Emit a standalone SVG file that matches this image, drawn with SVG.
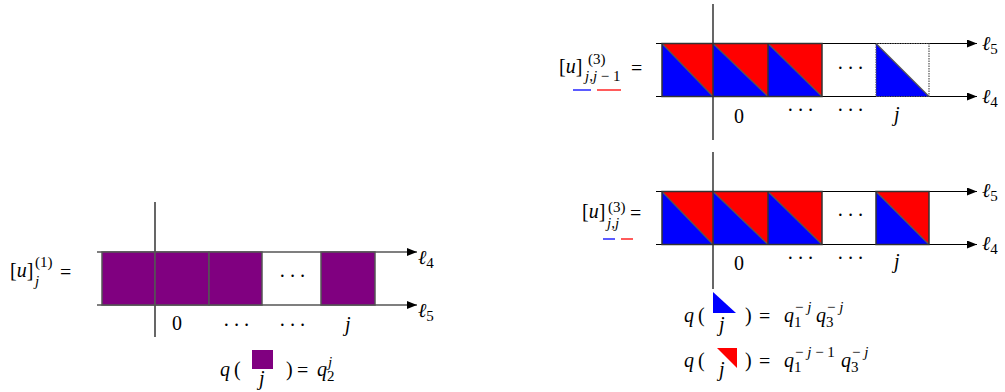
<svg xmlns="http://www.w3.org/2000/svg" width="1005" height="392" viewBox="0 0 1005 392">
<defs>
<marker id="arr" viewBox="0 0 10 8" refX="10" refY="4" markerWidth="10" markerHeight="8" markerUnits="userSpaceOnUse" orient="auto">
<path d="M0,0 L10,4 L0,8 z" fill="#000"/>
</marker>
</defs>
<style>
text{font-family:"Liberation Serif","DejaVu Serif","Times New Roman",serif;font-size:20px;fill:#000}
.i{font-style:italic}
.s{font-size:15px}
.ax{stroke:#000;stroke-width:1.2;fill:none}
.hl{stroke:#000;stroke-width:1.2;fill:none;marker-end:url(#arr)}
.pu{fill:#800080;stroke:#555;stroke-width:1.5}
.cell{fill:none;stroke:#333;stroke-width:1.5}
.bl{fill:#0000ff}
.rd{fill:#ff0000}
.dg{stroke:#555;stroke-width:1.2}
.dots{letter-spacing:3.5px}
</style>
<rect width="1005" height="392" fill="#fff"/>

<g id="connectors">
<line class="ax" x1="155" y1="202" x2="155" y2="337"/>
<line class="hl" x1="97" y1="252" x2="417" y2="252"/>
<line class="hl" x1="97" y1="305" x2="417" y2="305"/>
<line class="ax" x1="713" y1="4" x2="713" y2="140"/>
<line class="hl" x1="656" y1="43.5" x2="977" y2="43.5"/>
<line class="hl" x1="656" y1="96.5" x2="977" y2="96.5"/>
<line class="ax" x1="713" y1="152" x2="713" y2="289"/>
<line class="hl" x1="656" y1="191.5" x2="977" y2="191.5"/>
<line class="hl" x1="656" y1="244.5" x2="977" y2="244.5"/>
</g>

<g id="left-diagram">
<rect class="pu" x="102" y="252" width="53" height="53"/>
<rect class="pu" x="155" y="252" width="54" height="53"/>
<rect class="pu" x="209" y="252" width="53" height="53"/>
<rect class="pu" x="321" y="252" width="54" height="53"/>
<text class="dots" x="279" y="283">···</text>
<text x="10" y="277" font-size="26">[<tspan class="i">u</tspan>]</text>
<text class="s" x="35" y="267">(1)</text>
<text class="s i" x="35" y="286">j</text>
<text x="60" y="279" font-size="24">=</text>
<text class="i" x="418" y="264">ℓ<tspan class="s" font-style="normal" dy="4">4</tspan></text>
<text class="i" x="418" y="317">ℓ<tspan class="s" font-style="normal" dy="4">5</tspan></text>
<text x="172" y="330">0</text>
<text class="dots" x="223" y="332">···</text>
<text class="dots" x="279" y="332">···</text>
<text class="i" x="345" y="331">j</text>
</g>

<g id="top-right-diagram">
<polygon class="bl" points="662,43.5 662,96.5 713,96.5"/>
<polygon class="rd" points="662,43.5 713,43.5 713,96.5"/>
<line class="dg" x1="662" y1="43.5" x2="713" y2="96.5"/>
<polygon class="bl" points="713,43.5 713,96.5 768,96.5"/>
<polygon class="rd" points="713,43.5 768,43.5 768,96.5"/>
<line class="dg" x1="713" y1="43.5" x2="768" y2="96.5"/>
<polygon class="bl" points="768,43.5 768,96.5 822,96.5"/>
<polygon class="rd" points="768,43.5 822,43.5 822,96.5"/>
<line class="dg" x1="768" y1="43.5" x2="822" y2="96.5"/>
<rect class="cell" x="662" y="43.5" width="160" height="53"/>
<line class="cell" x1="713" y1="43.5" x2="713" y2="96.5"/>
<line class="cell" x1="768" y1="43.5" x2="768" y2="96.5"/>
<polygon class="bl" points="876,43.5 876,96.5 929,96.5"/>
<line class="dg" x1="876" y1="43.5" x2="929" y2="96.5"/>
<rect x="876" y="43.5" width="53" height="53" fill="none" stroke="#555" stroke-width="1.2" stroke-dasharray="1.5,1"/>
<text class="dots" x="837" y="75">···</text>
<text x="559" y="73" font-size="22">[<tspan class="i">u</tspan>]</text>
<text class="s" x="588" y="64">(3)</text>
<text class="s" x="585" y="81"><tspan class="i">j</tspan>,<tspan class="i">j</tspan> − 1</text>
<text x="631" y="75" font-size="22">=</text>
<line x1="573" y1="90" x2="591" y2="90" stroke="#3333ff" stroke-width="1.6"/>
<line x1="597" y1="90" x2="621" y2="90" stroke="#ff3333" stroke-width="1.6"/>
<text class="i" x="982" y="50">ℓ<tspan class="s" font-style="normal" dy="4">5</tspan></text>
<text class="i" x="982" y="103">ℓ<tspan class="s" font-style="normal" dy="4">4</tspan></text>
<text x="734" y="123">0</text>
<text class="dots" x="787" y="117">···</text>
<text class="dots" x="837" y="117">···</text>
<text class="i" x="894" y="121">j</text>
</g>

<g id="middle-right-diagram">
<polygon class="bl" points="662,191.5 662,244.5 713,244.5"/>
<polygon class="rd" points="662,191.5 713,191.5 713,244.5"/>
<line class="dg" x1="662" y1="191.5" x2="713" y2="244.5"/>
<polygon class="bl" points="713,191.5 713,244.5 768,244.5"/>
<polygon class="rd" points="713,191.5 768,191.5 768,244.5"/>
<line class="dg" x1="713" y1="191.5" x2="768" y2="244.5"/>
<polygon class="bl" points="768,191.5 768,244.5 822,244.5"/>
<polygon class="rd" points="768,191.5 822,191.5 822,244.5"/>
<line class="dg" x1="768" y1="191.5" x2="822" y2="244.5"/>
<polygon class="bl" points="876,191.5 876,244.5 929,244.5"/>
<polygon class="rd" points="876,191.5 929,191.5 929,244.5"/>
<line class="dg" x1="876" y1="191.5" x2="929" y2="244.5"/>
<rect class="cell" x="662" y="191.5" width="160" height="53"/>
<line class="cell" x1="713" y1="191.5" x2="713" y2="244.5"/>
<line class="cell" x1="768" y1="191.5" x2="768" y2="244.5"/>
<rect class="cell" x="876" y="191.5" width="53" height="53"/>
<text class="dots" x="837" y="222">···</text>
<text x="582" y="218" font-size="22">[<tspan class="i">u</tspan>]</text>
<text class="s" x="608" y="212">(3)</text>
<text class="s" x="607" y="228"><tspan class="i">j</tspan>,<tspan class="i">j</tspan></text>
<text x="630" y="220" font-size="22">=</text>
<line x1="603" y1="239" x2="615" y2="239" stroke="#3333ff" stroke-width="1.6"/>
<line x1="621" y1="239" x2="633" y2="239" stroke="#ff3333" stroke-width="1.6"/>
<text class="i" x="982" y="197">ℓ<tspan class="s" font-style="normal" dy="4">5</tspan></text>
<text class="i" x="982" y="250">ℓ<tspan class="s" font-style="normal" dy="4">4</tspan></text>
<text x="734" y="270">0</text>
<text class="dots" x="787" y="265">···</text>
<text class="dots" x="837" y="265">···</text>
<text class="i" x="894" y="268">j</text>
</g>

<g id="formula-purple">
<text class="i" x="220" y="376">q</text>
<text x="234" y="376">(</text>
<rect x="252" y="350" width="21" height="19" fill="#800080"/>
<text class="i" x="259" y="385">j</text>
<text x="286" y="376">)</text>
<text x="297" y="377" font-size="22">=</text>
<text class="i" x="317" y="376">q</text>
<text class="s i" x="328" y="367">j</text>
<text class="s" x="327" y="381">2</text>
</g>

<g id="formula-blue">
<polygon class="bl" points="713,292 713,313 736,313"/>
<text class="i" x="684" y="322">q</text>
<text x="698" y="322">(</text>
<text class="i" x="719" y="331">j</text>
<text x="745" y="322">)</text>
<text x="759" y="323" font-size="22">=</text>
<text class="i" x="784" y="322">q</text>
<text class="s" x="795" y="312">− <tspan class="i">j</tspan></text>
<text class="s" x="794" y="327">1</text>
<text class="i" x="816" y="322">q</text>
<text class="s" x="827" y="312">− <tspan class="i">j</tspan></text>
<text class="s" x="826" y="327">3</text>
</g>

<g id="formula-red">
<polygon class="rd" points="717,348 737,348 737,368"/>
<text class="i" x="684" y="367">q</text>
<text x="698" y="367">(</text>
<text class="i" x="719" y="376">j</text>
<text x="745" y="367">)</text>
<text x="759" y="368" font-size="22">=</text>
<text class="i" x="784" y="367">q</text>
<text class="s" x="795" y="357">− <tspan class="i">j</tspan> − 1</text>
<text class="s" x="794" y="372">1</text>
<text class="i" x="841" y="367">q</text>
<text class="s" x="852" y="357">− <tspan class="i">j</tspan></text>
<text class="s" x="851" y="372">3</text>
</g>
</svg>
